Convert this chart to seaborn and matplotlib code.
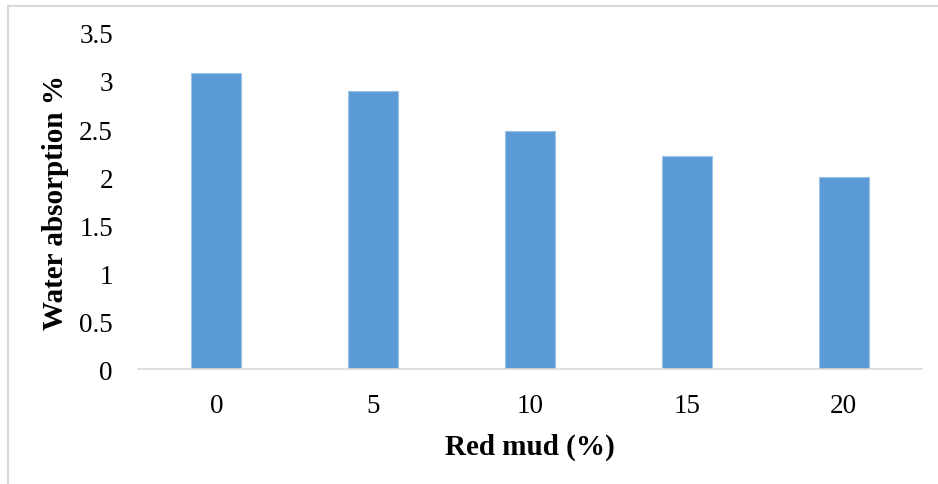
import pandas as pd
import matplotlib
matplotlib.use("Agg")
import matplotlib.pyplot as plt
from matplotlib.lines import Line2D
import seaborn as sns

# Data
red_mud = ["0", "5", "10", "15", "20"]
water_absorption = [3.08, 2.90, 2.48, 2.22, 2.00]
y_ticks = [0, 0.5, 1, 1.5, 2, 2.5, 3, 3.5]
y_tick_labels = ["0", "0.5", "1", "1.5", "2", "2.5", "3", "3.5"]

frame = pd.DataFrame({"red_mud": red_mud, "water": water_absorption})

sns.set_style("white")
plt.rcParams["font.family"] = ["Liberation Serif", "DejaVu Serif"]
plt.rcParams["axes.labelcolor"] = "black"

fig = plt.figure(figsize=(9.38, 4.85), dpi=100)
ax = fig.add_axes([0.1471, 0.2371, 0.8359, 0.6928])

sns.barplot(data=frame, x="red_mud", y="water", order=red_mud, color="#5B9BD5",
            saturation=1, width=0.32, edgecolor="#9DC3E6", linewidth=0.8, ax=ax)

ax.set_xlim(-0.5, 4.5)
ax.set_ylim(0, 3.5)
ax.set_yticks(y_ticks)
ax.set_yticklabels(y_tick_labels)

for side in ["top", "right", "left"]:
    ax.spines[side].set_visible(False)
ax.spines["bottom"].set_color("#D9D9D9")
ax.spines["bottom"].set_linewidth(1.2)

ax.tick_params(axis="both", length=0, labelsize=19.5, colors="#000000")
ax.tick_params(axis="x", pad=17)
ax.tick_params(axis="y", pad=18)

ax.set_xlabel("Red mud (%)", fontsize=21, fontweight="bold", labelpad=11, color="black")
ax.set_ylabel("Water absorption %", fontsize=21, fontweight="bold", labelpad=7, color="black")

# light frame on top and left edges like the source picture
fig.add_artist(Line2D([8 / 938, 1.0], [1 - 7 / 485, 1 - 7 / 485],
                      transform=fig.transFigure, color="#D9D9D9", linewidth=1.5))
fig.add_artist(Line2D([8 / 938, 8 / 938], [0.0, 1 - 7 / 485],
                      transform=fig.transFigure, color="#D9D9D9", linewidth=1.5))

fig.savefig("out.png", dpi=100)
plt.close(fig)
